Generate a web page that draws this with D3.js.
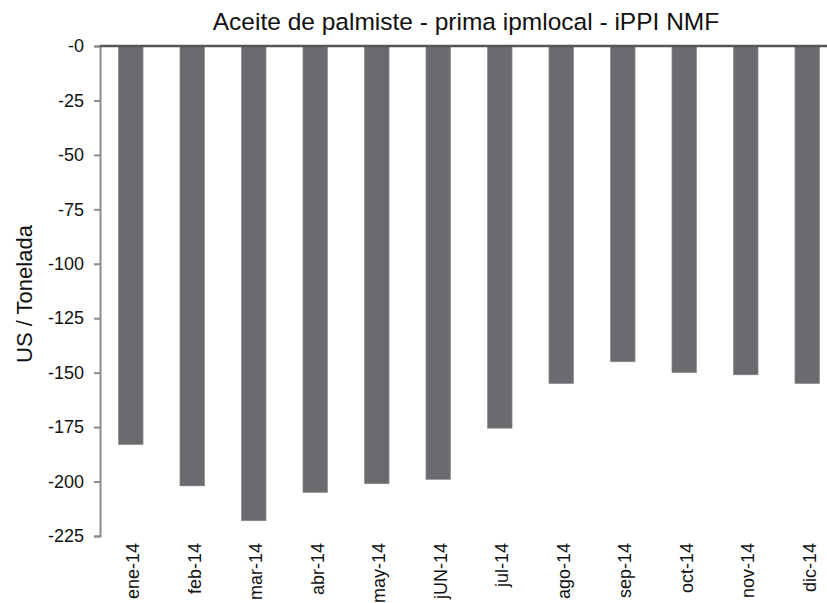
<!DOCTYPE html>
<html><head><meta charset="utf-8">
<script src="https://cdn.jsdelivr.net/npm/d3@7"></script>
<style>body{margin:0;background:#fff}svg{display:block}text{font-family:"Liberation Sans",Arial,sans-serif;fill:#111}</style>
</head><body><svg id="c" width="827" height="603"></svg>
<script>
const categories = ["ene-14","feb-14","mar-14","abr-14","may-14","jUN-14","jul-14","ago-14","sep-14","oct-14","nov-14","dic-14"];
const values = [-183,-202,-218,-205,-201,-199,-175.5,-155,-145,-150,-151,-155];
const yTicks = [0,-25,-50,-75,-100,-125,-150,-175,-200,-225];
const yTickLabels = ["-0","-25","-50","-75","-100","-125","-150","-175","-200","-225"];
const title = "Aceite de palmiste - prima ipmlocal - iPPI NMF";
const yTitle = "US / Tonelada";

const svg = d3.select("#c");
const mLeft = 100, mRight = 838, mTop = 46, mBottom = 536;
const x = d3.scaleBand().domain(categories).range([mLeft, mRight]).paddingInner(0.6).paddingOuter(0.3);
const y = d3.scaleLinear().domain([0, -225]).range([mTop, mBottom]);

svg.selectAll("rect.bar").data(values).enter().append("rect")
  .attr("class","bar")
  .attr("x",(d,i)=>x(categories[i]))
  .attr("width",x.bandwidth())
  .attr("y",y(0))
  .attr("height",d=>y(d)-y(0))
  .attr("fill","#6a6b6e")
  .attr("stroke","#8a8b8e").attr("stroke-width",0.6);

// y axis
const ya = svg.append("g").attr("transform",`translate(${mLeft},0)`)
  .call(d3.axisLeft(y).tickValues(yTicks).tickFormat((d,i)=>yTickLabels[i]).tickSize(6).tickPadding(10));
ya.select(".domain").attr("stroke","#8c8c8c").attr("stroke-width",2);
ya.selectAll(".tick line").attr("stroke","#8c8c8c").attr("stroke-width",2);
ya.selectAll(".tick text").attr("font-size",18).attr("fill","#111").style("font-family","'Liberation Sans',Arial,sans-serif");

// zero line
svg.append("line").attr("x1",mLeft).attr("x2",827).attr("y1",y(0)).attr("y2",y(0))
  .attr("stroke","#555659").attr("stroke-width",2.5);

// x labels
const xa = svg.append("g").attr("transform",`translate(0,${mBottom+7})`)
  .call(d3.axisBottom(x).tickSize(0).tickPadding(0));
xa.select(".domain").remove();
xa.selectAll(".tick text").attr("font-size",18).attr("fill","#111")
  .style("font-family","'Liberation Sans',Arial,sans-serif")
  .attr("transform","rotate(-90)").attr("text-anchor","end").attr("x",0).attr("y",0).attr("dy","0.47em");

svg.append("text").attr("x",466).attr("y",30).attr("text-anchor","middle").attr("font-size",24.5).text(title);
svg.append("text").attr("transform","translate(32,294) rotate(-90)").attr("text-anchor","middle").attr("font-size",22).text(yTitle);
</script></body></html>
